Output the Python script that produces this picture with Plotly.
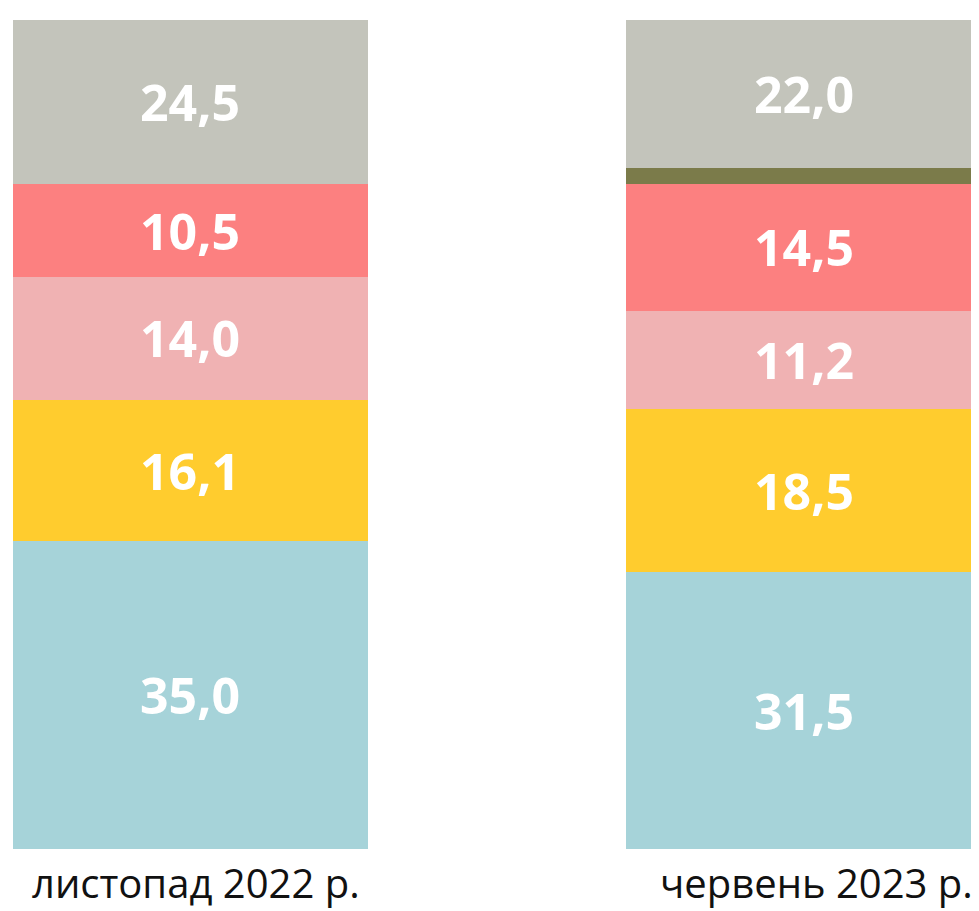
import plotly.graph_objects as go

categories = ["листопад 2022 р.", "червень 2023 р."]
series_names = ["Сегмент 1", "Сегмент 2", "Сегмент 3", "Сегмент 4", "Сегмент 5", "Сегмент 6"]
# values from bottom to top, per series, for [листопад 2022, червень 2023]
blue_vals = [35.0, 31.5]
yellow_vals = [16.1, 18.5]
pink_vals = [14.0, 11.2]
salmon_vals = [10.5, 14.5]
olive_vals = [0.0, 1.8]
gray_vals = [24.5, 22.0]
show_label = [True, True, True, True, False, True]
colors = ["#A6D3D9", "#FFCC2E", "#F0B2B3", "#FC8080", "#7B7B4A", "#C3C4BB"]

series = [blue_vals, yellow_vals, pink_vals, salmon_vals, olive_vals, gray_vals]
Y_MAX = 94.3

fig = go.Figure()
for name, vals, col in zip(series_names, series, colors):
    fig.add_trace(go.Bar(x=categories, y=vals, name=name, marker=dict(color=col, line=dict(width=0)),
                         hoverinfo="skip"))

annotations = []
for ci, cat in enumerate(categories):
    base = 0.0
    for si, vals in enumerate(series):
        v = vals[ci]
        top = min(base + v, Y_MAX)
        if show_label[si] and v > 0:
            annotations.append(dict(
                x=cat, y=(base + top) / 2, xref="x", yref="y",
                text=f"{v:.1f}".replace(".", ","), showarrow=False,
                font=dict(family="Open Sans", size=50, color="white", weight="bold"),
                xanchor="center", yanchor="middle"))
        base += v

label_shift = [6, 13]
for ci, cat in enumerate(categories):
    annotations.append(dict(
        x=cat, y=0, xref="x", yref="y", text=cat, showarrow=False,
        xanchor="center", yanchor="top", xshift=label_shift[ci], yshift=-4,
        font=dict(family="Open Sans", size=40, color="#111111")))

fig.update_layout(
    barmode="stack",
    bargap=0.4209,
    width=971, height=903,
    margin=dict(l=0, r=0, t=12, b=62),
    paper_bgcolor="white", plot_bgcolor="white",
    showlegend=False,
    annotations=annotations,
    xaxis=dict(range=[-0.2977, 1.2863], showgrid=False, zeroline=False, showline=False,
               ticks="", showticklabels=False),
    yaxis=dict(range=[0, Y_MAX], visible=False, showgrid=False, zeroline=False),
)

fig.write_html("out.html")
